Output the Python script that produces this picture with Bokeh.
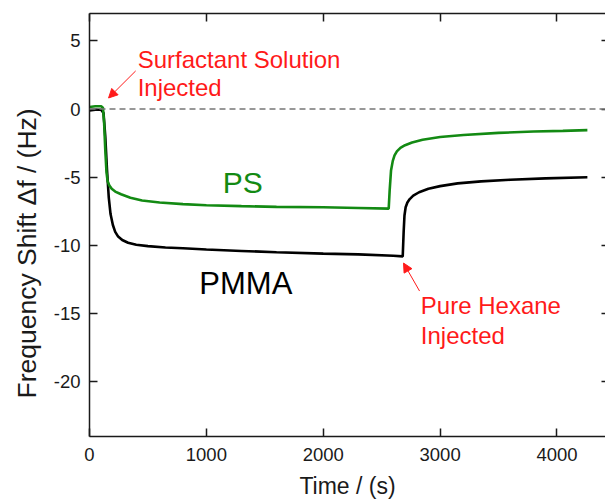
import math
from bokeh.plotting import figure
from bokeh.models import (LinearAxis, FixedTicker, Label, Arrow, NormalHead, Span, Title)
from bokeh.embed import file_html
from bokeh.resources import INLINE

# ---- data ----
ps_time = [0, 50, 100, 115, 125, 135, 145, 155, 170, 190, 220, 270, 350, 450, 600,
           800, 1000, 1300, 1600, 2000, 2300, 2560, 2568, 2580, 2595, 2610, 2630,
           2660, 2700, 2760, 2850, 3000, 3200, 3500, 3800, 4050, 4260]
ps_shift = [0.15, 0.2, 0.2, 0.1, -1.0, -3.0, -4.6, -5.3, -5.6, -5.85, -6.05, -6.25,
            -6.5, -6.7, -6.85, -6.97, -7.05, -7.12, -7.17, -7.2, -7.25, -7.3, -6.0,
            -4.5, -3.8, -3.4, -3.1, -2.85, -2.65, -2.45, -2.25, -2.05, -1.9, -1.75,
            -1.65, -1.6, -1.55]

pmma_time = [0, 50, 100, 120, 135, 150, 165, 180, 200, 220, 245, 280, 330, 400, 500,
             650, 800, 1000, 1300, 1600, 2000, 2300, 2600, 2680, 2688, 2695, 2705,
             2720, 2740, 2770, 2820, 2900, 3000, 3150, 3350, 3600, 3900, 4260]
pmma_shift = [-0.1, -0.05, -0.05, -0.3, -2.0, -4.5, -6.5, -7.7, -8.5, -9.0, -9.35,
              -9.6, -9.8, -9.95, -10.05, -10.15, -10.2, -10.3, -10.4, -10.5, -10.6,
              -10.65, -10.75, -10.8, -9.0, -7.8, -7.2, -6.85, -6.6, -6.35, -6.1,
              -5.85, -5.65, -5.45, -5.3, -5.18, -5.08, -5.0]

x_ticks = [0, 1000, 2000, 3000, 4000]
y_ticks = [-20, -15, -10, -5, 0, 5]

FONT = "Liberation Sans"
RED = "#ff1a1a"
GREEN = "#138a13"
AX = "#1a1a1a"

p = figure(width=605, height=502, x_range=(0, 4415), y_range=(-24, 7),
           output_backend="svg", toolbar_location=None,
           min_border_left=89, min_border_right=0, min_border_top=13,
           min_border_bottom=66, x_axis_location="below", y_axis_location="left")
p.outline_line_color = None
p.grid.visible = False
p.background_fill_color = "white"
p.border_fill_color = "white"

def style_axis(ax, labels=True):
    ax.axis_line_color = AX
    ax.axis_line_width = 1.5
    ax.major_tick_line_color = AX
    ax.major_tick_line_width = 1.5
    ax.major_tick_in = 8
    ax.major_tick_out = 0
    ax.minor_tick_line_color = None
    ax.major_label_text_font = FONT
    ax.major_label_text_font_size = "18.5px"
    ax.major_label_text_color = AX if labels else None

xa = p.xaxis[0]
xa.ticker = FixedTicker(ticks=x_ticks)
style_axis(xa)
xa.major_label_standoff = 11
xa.axis_label = "Time / (s)"
xa.axis_label_text_font = FONT
xa.axis_label_text_font_size = "23px"
xa.axis_label_text_font_style = "normal"
xa.axis_label_text_color = AX
xa.axis_label_standoff = 9

ya = p.yaxis[0]
ya.ticker = FixedTicker(ticks=y_ticks)
ya.major_label_overrides = {t: str(t) for t in y_ticks}
style_axis(ya)
ya.major_label_standoff = 9

top = LinearAxis(ticker=FixedTicker(ticks=x_ticks))
style_axis(top, labels=False)
top.major_label_text_font_size = "0px"
top.major_label_standoff = 0
p.add_layout(top, "above")

right = LinearAxis(ticker=FixedTicker(ticks=y_ticks))
style_axis(right, labels=False)
right.axis_line_color = None
right.major_tick_in = 4
right.major_label_text_font_size = "0px"
right.major_label_standoff = 0
p.add_layout(right, "right")

# y axis title, placed lower than the frame centre as in the reference
ytitle = Title(text="Frequency Shift \u0394f / (Hz)", align="left", offset=38,
               text_font=FONT, text_font_size="26.5px", text_font_style="normal",
               text_color=AX, standoff=18)
p.add_layout(ytitle, "left")

# zero reference line
p.add_layout(Span(location=0, dimension="width", line_color="#777777",
                  line_width=1.5, line_dash="6 4"))

p.line(pmma_time, pmma_shift, line_color="black", line_width=2.6)
p.line(ps_time, ps_shift, line_color=GREEN, line_width=2.6)

def lab(x, y, t, color, size):
    p.add_layout(Label(x=x, y=y, text=t, text_color=color, text_font=FONT,
                       text_font_size=size, text_baseline="alphabetic",
                       text_align="left"))

lab(412, 3.6, "Surfactant Solution", RED, "24px")
lab(412, 1.55, "Injected", RED, "24px")
lab(2835, -14.4, "Pure Hexane", RED, "24px")
lab(2835, -16.6, "Injected", RED, "24px")
lab(1140, -5.35, "PS", GREEN, "30px")
lab(940, -12.8, "PMMA", "black", "31px")

p.add_layout(Arrow(end=NormalHead(size=9, fill_color=RED, line_color=RED, line_width=1),
                   x_start=395, y_start=2.79, x_end=163, y_end=0.81,
                   line_color=RED, line_width=1))
p.add_layout(Arrow(end=NormalHead(size=9, fill_color=RED, line_color=RED, line_width=1),
                   x_start=2824, y_start=-13.34, x_end=2687, y_end=-11.29,
                   line_color=RED, line_width=1))

open("out.html", "w").write(file_html(p, INLINE))
